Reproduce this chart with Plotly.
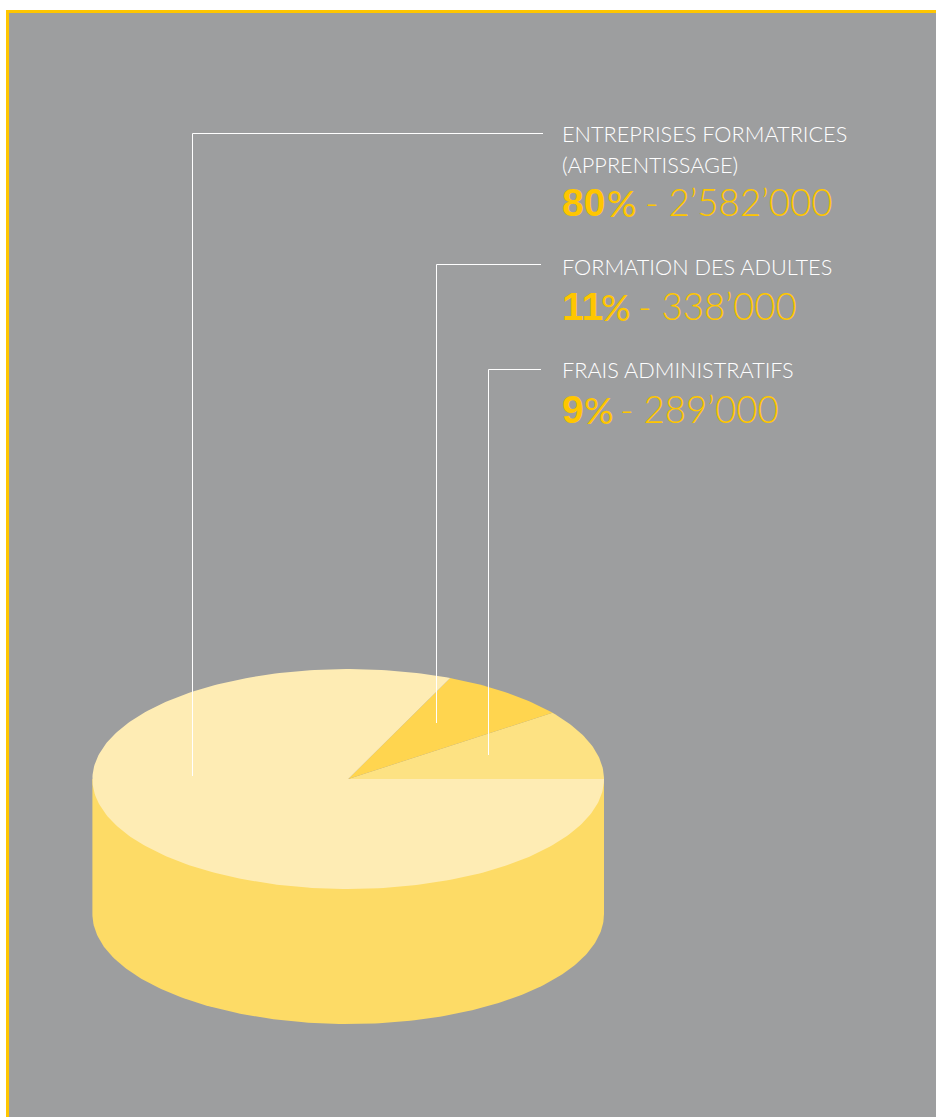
import numpy as np
import plotly.graph_objects as go

# --- data ---
categories = ["FRAIS ADMINISTRATIFS", "FORMATION DES ADULTES", "ENTREPRISES FORMATRICES<br>(APPRENTISSAGE)"]
percents = [9, 11, 80]
amounts = ["289’000", "338’000", "2’582’000"]
drawn_sweep_deg = [37, 29.5, 293.5]  # the artwork is not drawn to scale
slice_colors = ["#FDE283", "#FFD54F", "#FEECB4"]

label_y = [[369.5], [267], [134, 164.5]]
value_y = [409, 306, 202]
sign_x = [581.5, 599, 605]
amount_x = [618, 636, 643]
leader_end = [(488, 755), (436, 723), (192, 776)]
leader_y = [369, 264, 133]
leader_x1 = [541, 541, 543]

BG = "#9D9E9F"
FRAME = "#FFC600"
SIDE = "#FDDB66"
CX, CY, RX, RY, DEPTH = 348.2, 779, 255.8, 110, 135

fig = go.Figure()

# cylinder wall
t = np.radians(np.linspace(0, 180, 181))
wall_x = np.concatenate([CX + RX * np.cos(t), [CX - RX, CX + RX]])
wall_y = np.concatenate([CY + DEPTH + RY * np.sin(t), [CY, CY]])
fig.add_trace(go.Scatter(x=wall_x, y=wall_y, fill="toself", fillcolor=SIDE, mode="lines",
                         line=dict(width=0), hoverinfo="skip", showlegend=False))

# top face slices
start = 0
for cat, sweep, col in zip(categories, drawn_sweep_deg, slice_colors):
    a = np.radians(np.linspace(start, start + sweep, max(int(sweep), 2) + 1))
    fig.add_trace(go.Scatter(
        x=np.concatenate([[CX], CX + RX * np.cos(a), [CX]]),
        y=np.concatenate([[CY], CY - RY * np.sin(a), [CY]]),
        fill="toself", fillcolor=col, mode="lines", line=dict(width=0),
        name=cat.replace("<br>", " "), hoverinfo="name", showlegend=False))
    start += sweep

# leaders
for (ex, ey), ly, lx in zip(leader_end, leader_y, leader_x1):
    fig.add_trace(go.Scatter(x=[lx, ex + 0.5, ex + 0.5], y=[ly + 0.5, ly + 0.5, ey], mode="lines",
                             line=dict(color="white", width=1), hoverinfo="skip", showlegend=False))

# text
annotations = []


def note(x, y, text, family, size, color):
    annotations.append(dict(x=x, y=y, xref="x", yref="y", xanchor="left", yanchor="middle",
                            text=text, showarrow=False, align="left",
                            font=dict(family=family, size=size, color=color)))


for cat, pct, amt, lys, vy, sx, ax in zip(categories, percents, amounts, label_y, value_y, sign_x, amount_x):
    for line, ly in zip(cat.split("<br>"), lys):
        note(560, ly, line, "Lato Light, Lato", 21.7, "white")
    note(560, vy, f"<b>{pct}</b>", "Liberation Sans", 39, FRAME)
    note(sx, vy, "%", "Lato", 37, FRAME)
    note(ax, vy, f"- {amt}", "Lato Light, Lato", 36.7, FRAME)

shapes = [
    dict(type="rect", layer="below", xref="x", yref="y", x0=6, x1=940, y0=10, y1=1120, fillcolor=FRAME, line_width=0),
    dict(type="rect", layer="below", xref="x", yref="y", x0=9, x1=940, y0=13, y1=1120, fillcolor=BG, line_width=0),
]

fig.update_layout(
    width=936, height=1117, margin=dict(l=0, r=0, t=0, b=0),
    paper_bgcolor="white", plot_bgcolor="white", showlegend=False,
    xaxis=dict(range=[0, 936], visible=False, fixedrange=True),
    yaxis=dict(range=[1117, 0], visible=False, fixedrange=True),
    shapes=shapes, annotations=annotations,
)

fig.write_html("out.html", config={"displayModeBar": False},
               post_script="document.body.style.margin='0';document.documentElement.style.overflow='hidden';")
